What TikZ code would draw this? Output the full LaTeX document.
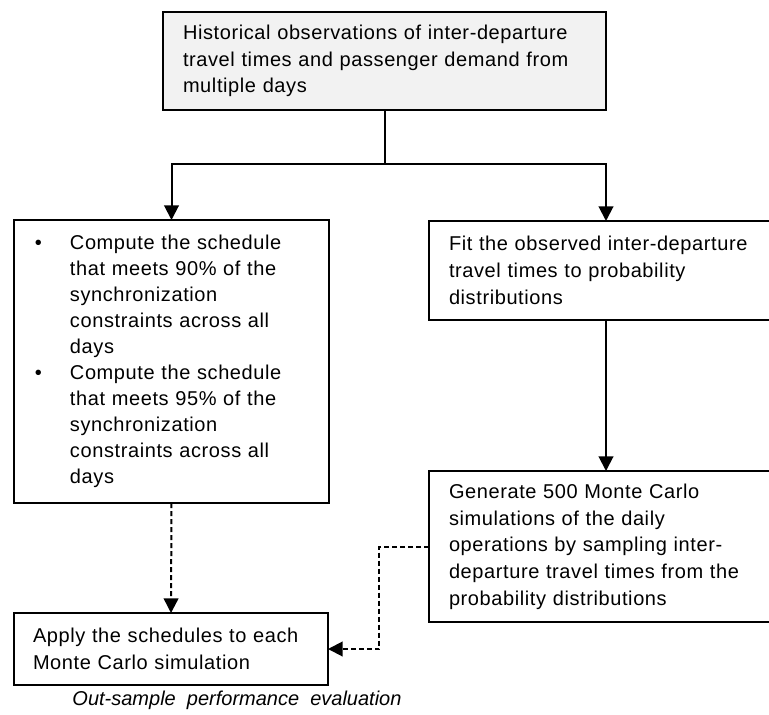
\documentclass[tikz,border=0pt]{standalone}
\usepackage{fontspec}
\setmainfont{Liberation Sans}[WordSpace=1.8, LetterSpace=3]
\newfontfamily\notefont{Liberation Sans}[WordSpace=2]
\usetikzlibrary{arrows.meta}
\usetikzlibrary{positioning}

\newcommand{\bul}[1]{\makebox[26.25pt][l]{\textbullet}\parbox[t]{178pt}{\raggedright #1}}

\begin{document}
\begin{tikzpicture}[x=0.75pt, y=-0.75pt,
  box/.style={draw, line width=1.2pt, rectangle, anchor=north west, align=left, outer sep=0pt, inner ysep=0pt,
    font=\fontsize{15pt}{20pt}\selectfont},
  flow/.style={line width=1.5pt, -{Triangle[width=11pt,length=11pt]}},
  dashflow/.style={flow, dash pattern=on 3.75pt off 2.25pt}]
\useasboundingbox (0,0) rectangle (769,715);
\clip (0,0) rectangle (769,715);

% boxes
\node[box, fill=black!5, inner xsep=15pt, text width=302.25pt, minimum height=73.5pt] (hist) at (163,12)
  {Historical observations of inter-departure\\travel times and passenger demand from\\multiple days};
\node[box, inner xsep=15.75pt, text width=204.75pt, minimum height=212.25pt,
  font=\fontsize{15pt}{19.5pt}\selectfont] (rules) at (14,220)
  {\bul{Compute the schedule\\that meets 90\% of the\\synchronization\\constraints across all\\days}\par\vspace{4.5pt}
   \bul{Compute the schedule\\that meets 95\% of the\\synchronization\\constraints across all\\days}};
\node[box, inner xsep=15pt, text width=235.5pt, minimum height=74.25pt] (fit) at (429,221)
  {Fit the observed inter-departure\\travel times to probability\\distributions};
\node[box, inner xsep=15pt, text width=235.5pt, minimum height=113.25pt] (gen) at (429,471)
  {Generate 500 Monte Carlo\\simulations of the daily\\operations by sampling inter-\\departure travel times from the\\probability distributions};
\node[box, inner xsep=14.25pt, text width=207pt, minimum height=54pt] (apply) at (14,613)
  {Apply the schedules to each\\Monte Carlo simulation};
\node[font=\fontsize{15pt}{20pt}\notefont\itshape] (eval) at (237,700) {Out-sample performance evaluation};

% connectors
\coordinate (split) at (hist.south |- 0,164);
\draw[line width=1.5pt] (hist.south) -- (split);
\draw[flow] (split) -| (rules.north);
\draw[flow] (split) -| (fit.north);
\draw[flow] (fit.south) -- (gen.north);
\draw[dashflow] (rules.south) -- (apply.north);
\draw[dashflow] (gen.west) -- ++(-50,0) |- (apply.east);
\end{tikzpicture}
\end{document}
